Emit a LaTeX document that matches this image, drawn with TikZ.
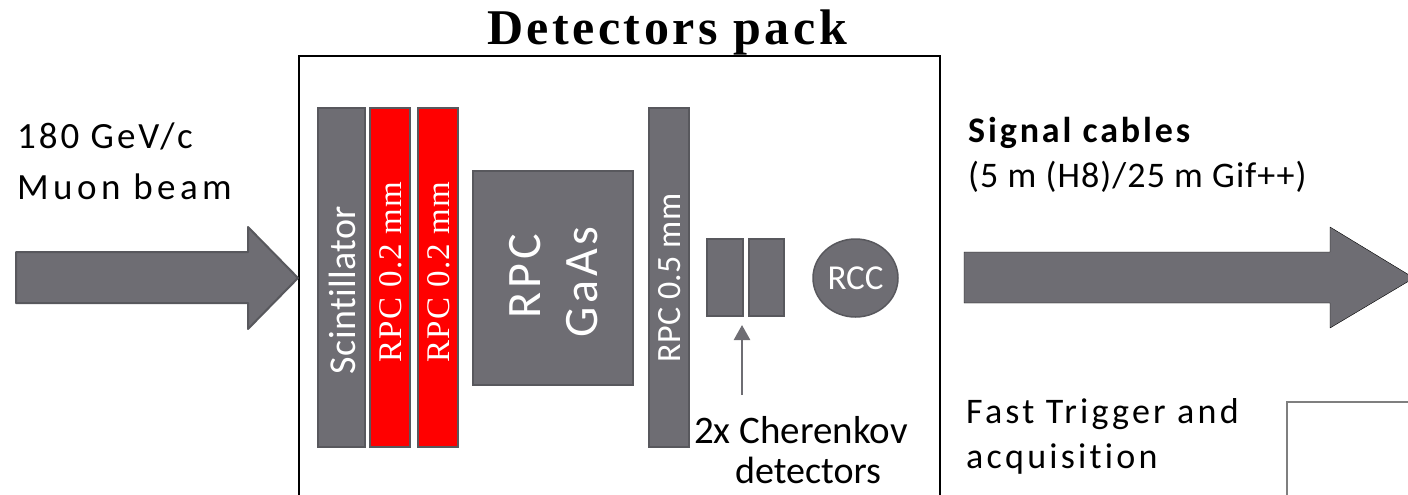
\documentclass[tikz,border=0pt]{standalone}
\usepackage{fontspec}
\setmainfont[Ligatures=NoCommon]{Carlito}
\newfontfamily\titlefont{Liberation Serif}
\newfontfamily\rpcfont{Liberation Serif}
\usetikzlibrary{arrows.meta,shapes.geometric}
\definecolor{boxgray}{RGB}{110,109,115}
\definecolor{edgegray}{RGB}{88,88,93}
\definecolor{rpcred}{RGB}{255,0,0}
\definecolor{framegray}{RGB}{127,127,127}
\tikzset{
  bar/.style={draw=edgegray, fill=boxgray, line width=1.5pt, inner sep=0pt},
  redbar/.style={bar, fill=rpcred},
  wlabel/.style={text=white, inner sep=0pt, rotate=90},
  plain/.style={inner sep=0pt, text=black},
  blockarrow/.style={fill=boxgray, line join=round},
}
\begin{document}
\begin{tikzpicture}[x=1pt,y=-1pt]
\useasboundingbox (0,0) rectangle (1408,495);
\clip (0,0) rectangle (1408,495);

% title and frame
\node[plain, anchor=base, font={\titlefont\bfseries\fontsize{50}{50}\selectfont\addfontfeature{LetterSpace=7}}] (title) at (667,45) {Detectors pack};
\draw[line width=2.5pt] (299,520) -- (299,56) -- (940,56) -- (940,520);

% beam arrow
\draw[blockarrow, draw=edgegray, line width=2pt] (16,252) -- (248,252) -- (248,227) -- (298,278) -- (248,329) -- (248,303) -- (16,303) -- cycle;
\node[plain, anchor=base west, font={\fontsize{37}{37}\selectfont\addfontfeature{LetterSpace=8}}] (beam1) at (17,148) {180 GeV/c};
\node[plain, anchor=base west, font={\fontsize{37}{37}\selectfont\addfontfeature{LetterSpace=12}}] (beam2) at (17,199) {Muon beam};

% detectors
\node[bar, minimum width=47pt, minimum height=339pt] (scint) at (341.5,277.5) {};
\node[redbar, minimum width=40pt, minimum height=339pt] (rpc1) at (390,277.5) {};
\node[redbar, minimum width=40pt, minimum height=339pt] (rpc2) at (438,277.5) {};
\node[bar, minimum width=160pt, minimum height=214pt] (gaas) at (553,278) {};
\node[bar, minimum width=40pt, minimum height=339pt] (rpc5) at (669,277.5) {};
\node[bar, minimum width=36pt, minimum height=77pt] (ch1) at (725,277.5) {};
\node[bar, minimum width=35pt, minimum height=77pt] (ch2) at (766.5,277.5) {};
\node[bar, ellipse, minimum width=85pt, minimum height=78pt] (rcc) at (855.5,278) {};

\node[wlabel, font={\fontsize{38}{38}\selectfont\addfontfeature{LetterSpace=1}}] (scintl) at (342,290) {Scintillator};
\node[wlabel, font={\rpcfont\fontsize{33}{33}\selectfont\addfontfeature{LetterSpace=4}}] (rpc1l) at (391,272) {RPC 0.2 mm};
\node[wlabel, font={\rpcfont\fontsize{33}{33}\selectfont\addfontfeature{LetterSpace=4}}] (rpc2l) at (439,272) {RPC 0.2 mm};
\node[wlabel, font={\fontsize{48}{48}\selectfont\addfontfeature{LetterSpace=8}}] (gaasl1) at (525,276) {RPC};
\node[wlabel, font={\fontsize{48}{48}\selectfont\addfontfeature{LetterSpace=8}}] (gaasl2) at (582,282) {GaAs};
\node[wlabel, font={\fontsize{34}{34}\selectfont\addfontfeature{LetterSpace=1}}] (rpc5l) at (670,278) {RPC 0.5 mm};
\node[plain, text=white, font={\fontsize{35}{35}\selectfont}] (rccl) at (855.5,278) {RCC};

% Cherenkov label
\node[plain, anchor=base west, font={\fontsize{39}{39}\selectfont}] (cherl1) at (694,443) {2x Cherenkov};
\node[plain, anchor=base west, font={\fontsize{38}{38}\selectfont}] (cherl2) at (735,483) {detectors};
\coordinate (cherfrom) at (742,395);
\coordinate (cherto) at (742,325);
\draw[boxgray, line width=2.5pt, -{Triangle[width=16pt,length=15pt]}] (cherfrom) -- (cherto);

% signal cables
\draw[blockarrow] (964,252) -- (1330,252) -- (1330,227) -- (1414,278) -- (1330,328) -- (1330,303) -- (964,303) -- cycle;
\node[plain, anchor=base west, font={\bfseries\fontsize{36}{36}\selectfont\addfontfeature{LetterSpace=8}}] (sig1) at (968,142) {Signal cables};
\node[plain, anchor=base west, font={\fontsize{36}{36}\selectfont\addfontfeature{LetterSpace=3}}] (sig2) at (968,187) {(5 m (H8)/25 m Gif++)};

% trigger
\node[plain, anchor=base west, font={\fontsize{36}{36}\selectfont\addfontfeature{LetterSpace=9}}] (trig1) at (966,423) {Fast Trigger and};
\node[plain, anchor=base west, font={\fontsize{36}{36}\selectfont\addfontfeature{LetterSpace=9}}] (trig2) at (966,468) {acquisition};
\draw[framegray, line width=2.5pt] (1420,402) -- (1287,402) -- (1287,520);
\end{tikzpicture}
\end{document}
